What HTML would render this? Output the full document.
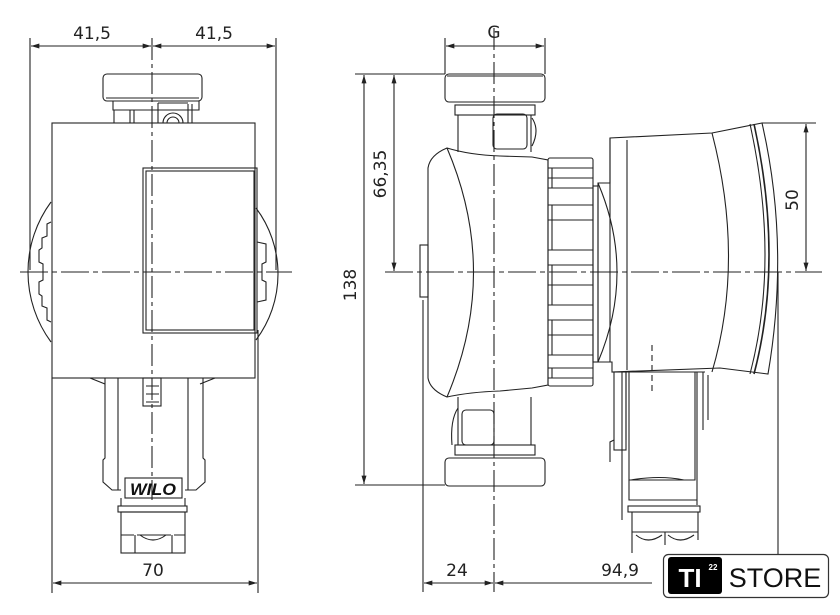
<!DOCTYPE html>
<html><head><meta charset="utf-8"><style>
html,body{margin:0;padding:0;background:#fff;}
svg{display:block}
text{font-family:"DejaVu Sans","Liberation Sans",sans-serif;fill:#222}
</style></head><body>
<svg width="840" height="615" viewBox="0 0 840 615" xmlns="http://www.w3.org/2000/svg">
<defs>
<marker id="a" viewBox="0 0 10 6" refX="10" refY="3" markerWidth="14" markerHeight="5" orient="auto-start-reverse" markerUnits="userSpaceOnUse"><path d="M0,0L10,3L0,6z" fill="#222"/></marker>
</defs>
<g fill="none" stroke="#222" stroke-width="1.1">
<line x1="152" y1="38" x2="152" y2="500" stroke-dasharray="22,4,4,4"/>
<line x1="20" y1="272" x2="292" y2="272" stroke-dasharray="28,4,5,4"/>
<line x1="30" y1="38" x2="30" y2="270"/>
<line x1="276" y1="38" x2="276" y2="270"/>
<line x1="31" y1="46" x2="151" y2="46" marker-start="url(#a)" marker-end="url(#a)"/>
<line x1="153" y1="46" x2="275" y2="46" marker-start="url(#a)" marker-end="url(#a)"/>
<line x1="52" y1="378" x2="52" y2="593"/>
<line x1="258" y1="330" x2="258" y2="593"/>
<line x1="53" y1="583" x2="257" y2="583" marker-start="url(#a)" marker-end="url(#a)"/>
<rect x="103" y="74" width="99" height="27" rx="4"/>
<line x1="106" y1="98" x2="199" y2="98"/>
<path d="M113,101V110H199V101"/>
<path d="M114,110V123M130,110V123M134,110V123M158,103V123M188,104V123M192,104V123"/>
<path d="M158,103H188"/>
<path d="M163,123A10,10 0 0 1 183,123"/>
<path d="M167,123A6,6 0 0 1 179,123"/>
<rect x="52" y="123" width="203" height="255"/>
<rect x="143" y="168" width="114" height="165"/>
<rect x="146" y="171" width="108" height="159"/>
<path d="M51,202A118,118 0 0 0 51,342"/>
<path d="M256,208A110,110 0 0 1 256,340"/>
<path d="M51,222L47,224V236L42,238V248L39,250V262L43,264V280L39,282V294L42,296V306L47,308V320L51,322"/>
<path d="M257,242L266,244V262L262,264V280L266,282V300L257,302"/>
<path d="M90,378L105,384M215,378L200,384"/>
<path d="M105,378V458L103,460V482L112,490H121M203,378V458L205,460V482L196,490H185"/>
<path d="M118,378V490M188,378V490"/>
<rect x="143" y="378" width="18" height="28"/>
<path d="M146,386H159M146,394H159M146,402H159"/>
<rect x="125" y="478" width="57" height="20"/>
<rect x="118" y="506" width="69" height="6"/>
<path d="M121,498V506M185,498V506"/>
<rect x="121" y="512" width="64" height="41"/>
<path d="M121,535H134M137,535H171M174,535H185M135,535V553M172,535V553"/>
<path d="M140,535Q153,545 166,535"/>

<line x1="494" y1="28" x2="494" y2="592" stroke-dasharray="22,4,4,4"/>
<line x1="385" y1="272" x2="822" y2="272" stroke-dasharray="28,4,5,4"/>
<line x1="445" y1="38" x2="445" y2="74"/>
<line x1="545" y1="38" x2="545" y2="74"/>
<line x1="446" y1="46" x2="544" y2="46" marker-start="url(#a)" marker-end="url(#a)"/>
<line x1="355" y1="74" x2="445" y2="74"/>
<line x1="355" y1="485" x2="445" y2="485"/>
<line x1="364" y1="75" x2="364" y2="484" marker-start="url(#a)" marker-end="url(#a)"/>
<line x1="394" y1="75" x2="394" y2="271" marker-start="url(#a)" marker-end="url(#a)"/>
<line x1="762" y1="123" x2="816" y2="123"/>
<line x1="806" y1="124" x2="806" y2="271" marker-start="url(#a)" marker-end="url(#a)"/>
<line x1="423" y1="300" x2="423" y2="592"/>
<line x1="778" y1="272" x2="778" y2="592"/>
<line x1="424" y1="583" x2="493" y2="583" marker-start="url(#a)" marker-end="url(#a)"/>
<line x1="495" y1="583" x2="652" y2="583" marker-start="url(#a)"/>
<rect x="445" y="74" width="100" height="28" rx="4"/>
<line x1="447" y1="76" x2="543" y2="76"/>
<rect x="455" y="105" width="80" height="10"/>
<path d="M458,115V152M531,115V152"/>
<rect x="493" y="114" width="34" height="35" rx="4"/>
<path d="M532,118Q540,130 532,146"/>
<path d="M428,168Q430,155 447,148Q470,155 500,156L532,157L548,160V385L532,388L500,391Q470,392 447,397Q430,390 428,378Z"/>
<path d="M447,148Q500,272 447,397"/>
<rect x="420" y="245" width="8" height="52"/>
<path d="M458,397V445M531,397V445"/>
<rect x="455" y="445" width="80" height="10"/>
<rect x="445" y="458" width="100" height="28" rx="4"/>
<rect x="462" y="410" width="32" height="35" rx="4"/>
<path d="M458,408Q450,420 452,445"/>
<rect x="548" y="158" width="45" height="228" rx="2"/>
<path d="M548,168H593M548,178H593M548,188H593M548,205H593M548,220H593M548,250H593M548,265H593M548,285H593M548,305H593M548,320H593M548,335H593M548,355H593M548,368H593M548,378H593"/>
<path d="M552,168V188M552,205V250M552,265V305M552,320V355M552,368V378"/>
<rect x="593" y="186" width="5" height="176"/>
<path d="M598,183H610V138L712,133L762,123Q790,245 768,374L720,368L612,372V362H598Z"/>
<path d="M610,138V362"/>
<path d="M627,140V370"/>
<path d="M598,183Q636,272 598,362"/>
<path d="M712,133Q745,260 712,372"/>
<path d="M750,124Q780,260 750,374"/>
<path d="M754,124Q784,260 754,374" stroke-width="1.6"/>
<path d="M612,372H705M622,372V520M697,372V505"/>
<path d="M652,345V392" stroke-dasharray="6,4"/>
<rect x="614" y="372" width="12" height="78"/>
<path d="M614,440L610,442V462M626,372V440"/>
<path d="M703,372V430M708,375V420"/>
<path d="M629,372V480H695V372"/>
<path d="M629,480V500H697"/>
<path d="M631,480Q660,475 684,480"/>
<rect x="628" y="506" width="72" height="6"/>
<path d="M632,512V553M698,512V540M632,532H698M665,532V545"/>
<path d="M636,535Q648,545 662,535M668,535Q680,545 694,535"/>
</g>
<text x="92" y="39" font-size="17" text-anchor="middle">41,5</text>
<text x="214" y="39" font-size="17" text-anchor="middle">41,5</text>
<text x="153" y="576" font-size="17" text-anchor="middle">70</text>
<text x="494" y="38" font-size="17" text-anchor="middle">G</text>
<text x="457" y="576" font-size="17" text-anchor="middle">24</text>
<text x="620" y="576" font-size="17" text-anchor="middle">94,9</text>
<text transform="translate(356,285) rotate(-90)" font-size="17" text-anchor="middle">138</text>
<text transform="translate(386,174) rotate(-90)" font-size="17" text-anchor="middle">66,35</text>
<text transform="translate(798,200) rotate(-90)" font-size="17" text-anchor="middle">50</text>
<text x="153" y="495" font-size="17" font-weight="bold" font-style="italic" text-anchor="middle" textLength="46" lengthAdjust="spacingAndGlyphs" style="font-family:'Liberation Sans',sans-serif;fill:#111">WILO</text>
<rect x="663.5" y="554.5" width="165" height="43" rx="5" fill="#fff" stroke="#333" stroke-width="1.2"/>
<rect x="668" y="557" width="54" height="37" rx="3" fill="#000"/>
<text x="690" y="587" font-size="26" font-weight="bold" text-anchor="middle" style="font-family:'Liberation Sans',sans-serif;fill:#fff">TI</text>
<text x="713" y="570" font-size="8" font-weight="bold" text-anchor="middle" style="font-family:'Liberation Sans',sans-serif;fill:#fff">22</text>
<text x="775" y="587" font-size="27" text-anchor="middle" style="font-family:'Liberation Sans',sans-serif;fill:#111">STORE</text>
</svg>
</body></html>
